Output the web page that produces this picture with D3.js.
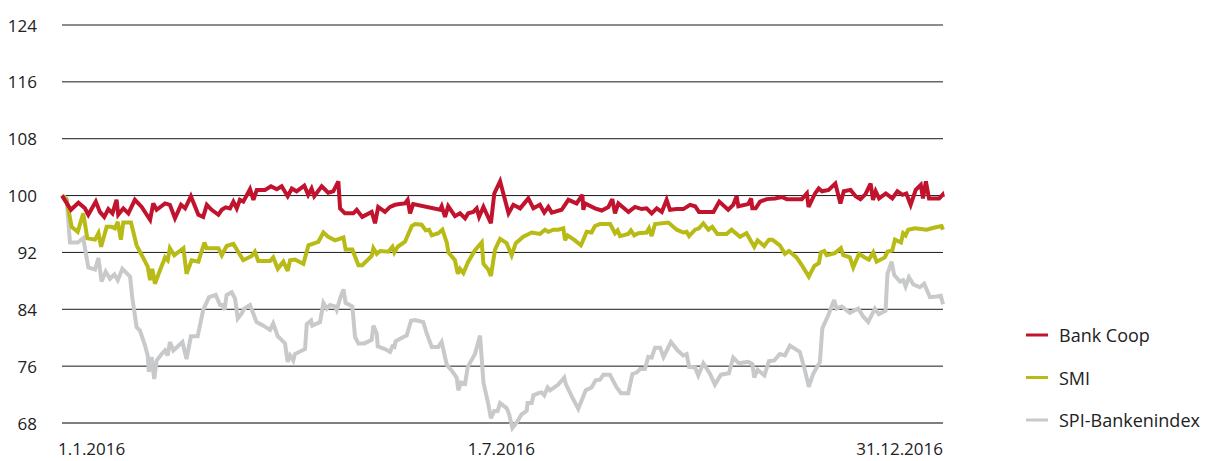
<!DOCTYPE html>
<html><head><meta charset="utf-8">
<script src="https://cdn.jsdelivr.net/npm/d3@7"></script>
<style>
html,body{margin:0;padding:0;background:#fff;}
svg text{font-family:"Open Sans",sans-serif;fill:#222;}
</style></head>
<body><svg id="c" width="1206" height="461"></svg>
<script>
// ---- data (day offsets from 1.1.2016, index values) ----
const seriesNames = ["Bank Coop", "SMI", "SPI-Bankenindex"];
const yTicks = [68, 76, 84, 92, 100, 108, 116, 124];
const xTickLabels = ["1.1.2016", "1.7.2016", "31.12.2016"];
const xTickDates = ["2016-01-01", "2016-07-01", "2016-12-31"];

const bankCoopDays = [0,3.7,6.8,9.5,10.9,14.0,15.7,17.5,19.2,20.9,22.6,23.3,25.4,27.5,30.2,33,36.5,37.8,39.2,42.7,44.7,46.8,49.3,51,53.4,56.5,58.5,60,62,64.8,66.2,67.8,69.6,71,72.4,73.7,75.1,77.9,79.3,80.7,84.1,86.6,89,91,93.5,95.2,97.2,100.4,102,103.4,104.5,107.6,110.3,112.4,114.5,115.2,117.2,120.7,122.1,124.4,128.3,129.7,131,133.8,135.9,138,140,142.1,143.2,144.2,145.5,156.6,157.3,158.7,160,162.8,164.9,167,168.3,170.4,171.8,172.8,174.6,177.7,179.1,181.5,185,187,189.8,193.2,195.3,198,199.8,201.5,202.9,207,209.8,213.2,215.6,216,216.7,220.8,223.6,226.4,228,229.1,230.5,234.7,237.4,240.2,242.2,244.3,246.4,248.5,250.5,251.9,254.7,257.4,260.2,262.3,263.9,269.9,272.3,276,278.1,279.5,280.2,284.3,285.5,286,287.4,289.2,292,295.4,298.2,300.3,306.5,308.6,309.3,312,313.5,314.9,317.6,320.4,322.5,323.9,326.7,328.8,330.8,332.9,335,336,337.1,338.5,341.3,344,346.1,348.2,349.8,351.6,353.7,355.8,356.7,357.9,359.2,363.4,364.8,365];
const bankCoopValues = [100,98.0,99.0,98.2,97.3,99.15,97.7,97.0,98.1,97.5,99.4,97.3,98.2,97.5,99.4,98.4,96.6,98.9,98.0,98.9,98.7,96.8,98.7,98.2,99.9,97.3,97.0,98.7,98.0,97.3,98.0,98.35,98.2,99.15,98.2,99.4,99.15,100.9,99.4,100.8,100.8,101.3,100.9,101.3,99.9,101.0,100.6,101.4,100.1,101.0,99.9,101.3,100.4,100.6,102.0,98.2,97.5,97.5,98.0,97.0,97.7,96.1,98.4,97.7,98.4,98.7,98.8,98.9,99.4,97.5,98.8,98.0,98.5,97.0,98.5,97.1,97.5,96.8,97.5,97.7,98.2,97.0,98.4,96.1,100.3,102.0,97.5,98.7,98.2,99.6,98.2,98.7,97.6,98.4,97.6,98.0,99.4,98.9,100.1,98.0,98.9,98.2,97.9,98.4,99.5,97.5,98.9,97.7,98.4,98.1,98.2,97.5,98.2,97.7,99.4,98.0,98.1,98.1,98.7,98.5,97.7,97.7,99.15,98.0,98.7,99.9,98.5,98.8,99.6,98.2,98.2,99.15,99.5,99.6,99.8,99.5,99.5,100.3,98.4,100.3,101.0,100.6,100.8,101.7,98.9,100.6,100.8,99.9,99.5,100.2,101.7,99.4,100.6,99.6,100.3,99.6,100.6,100.1,100.3,98.7,100.8,101.5,99.6,102.0,99.6,99.6,100.1,99.8];

const smiDays = [0,1.9,4.0,6.5,8.8,10.5,13.7,15.1,16.2,18.5,20.6,21.9,23.1,24.4,25.4,28.6,30.9,33.7,35.5,36.5,37.4,38.5,40.6,42.7,43.8,44.7,46.5,50.3,51.6,53.7,56.5,59.0,59.9,64.8,66.2,68.2,71,75.1,78.6,79.9,81.3,86.2,87.5,89.4,91.7,93.5,94.5,96.5,100,102.1,106.2,108.3,110.3,113.1,116.6,117.5,120.3,122.8,124.4,128.3,129,130.4,131.8,135.2,136.9,137.7,139.1,142.1,144.9,146.3,149,150.7,152.1,153.2,155.9,157.6,159.4,160.1,162.8,164,164.9,166.3,168.3,171.1,173.9,174.6,176.6,177.7,179.4,181.5,184.2,186.3,188,191.1,194.6,198,200.1,201.5,203.6,205.6,207.7,208.4,209.5,212.5,215,217.4,219.4,220.8,222.9,227.1,229.1,230.2,231.2,234.6,235.7,237.1,238.8,242.2,243.2,244.3,245.7,251.2,254.7,257.4,258.8,259.8,262.3,263.9,265.7,267.8,269.4,271.5,275.3,277.4,280.9,283.6,286.8,288.2,290.9,292.9,294.3,297.4,299.5,301.2,304.3,306.7,309.4,311.7,313.6,314.4,315.8,316.8,320.2,322.7,323.7,326.4,327.8,330.2,332.6,334.3,336.1,337.5,340.9,342,344,345.1,347.6,348.5,349.5,350.6,353.4,358.2,361.6,364.4,365];
const smiValues = [100,99.4,95.6,94.9,97.5,94.0,93.8,94.7,92.8,95.6,95.6,95.4,96.3,93.8,96.2,96.2,93.0,91.2,90.0,88.1,89.7,87.6,89.5,91.3,90.9,92.6,91.6,92.6,89.0,90.9,90.7,93.4,92.6,92.6,91.6,92.9,93.2,90.9,91.5,92.1,90.8,90.8,91.3,89.7,90.7,89.4,90.9,91.0,90.4,93.0,93.5,94.8,94.2,93.7,94.1,92.4,92.4,90.2,90.2,91.5,92.6,91.8,92.2,92.1,92.8,92.0,92.8,93.5,95.7,96.0,95.9,95.1,95.2,94.4,94.7,95.2,93.4,92.0,90.9,89.0,89.7,89.1,90.7,92.3,93.4,90.4,89.6,88.7,92.4,93.9,93.3,91.6,93.3,94.2,94.8,94.6,95.2,94.9,95.2,95.2,95.4,93.7,94.4,93.7,93.0,94.9,94.8,95.7,96.0,96.0,94.7,95.1,94.3,94.6,95.1,94.4,94.7,94.8,95.4,94.3,96.0,96.2,95.2,94.8,94.9,94.3,95.2,95.4,96.1,95.2,95.6,94.6,94.6,95.2,94.2,94.7,92.8,93.7,92.9,93.8,93.8,93.0,91.8,92.2,91.3,90.1,88.6,90.1,90.5,92.0,92.2,91.6,91.9,92.6,91.6,91.3,89.9,91.8,91.3,91.0,92.0,90.7,91.3,92.1,92.3,93.8,93.4,94.7,94.4,95.2,95.4,95.2,95.5,95.7,95.2];

const spiDays = [0,1.9,3.3,6.5,8.8,10.9,13.7,15.1,16.4,18.1,19.9,21.7,23.1,25,28.2,29.1,30.9,32.3,34.4,35.5,36,37.1,38.2,39.2,41.3,42.7,43.8,44.7,46.1,49.9,51.6,53.4,56.2,58.5,60.9,63.7,65.5,66.4,67.3,68.2,70.3,71.7,72.8,74.4,75.5,77.9,80.6,83.4,86.2,87.5,89.4,90.3,92.4,93.5,94.5,95.8,96.5,100.7,101.4,103.2,103.7,106.9,108.3,109.7,111,113.1,113.8,115.2,116.6,117.5,120.3,121.4,122.8,125.3,128.3,129,130.4,130.8,133.8,135.9,136.9,137.7,138.2,141.4,142.8,144.6,146.3,149.7,151.1,153.2,155.9,157.3,159.4,161.4,163.5,164.2,165.3,167,168.1,171.1,173.2,174.6,176.6,177.7,179.1,180.5,181.5,184.2,185.2,186.6,188.4,190.4,192.5,192.9,194.6,195.3,197.4,198.7,199.8,201.2,202.2,205.6,208.1,208.7,211.4,213.9,217,219.4,221.1,222.9,224.3,227,229.8,231.6,234.6,236.3,238.1,239.5,241.5,242.9,244.3,245.7,247.8,249.2,252.3,255.1,257.4,258.8,259.8,262.3,263.6,265.7,268.5,270.5,273,276.3,278.1,280.4,284.3,286,286.8,288.2,291,292.9,295.1,297.4,299.5,301.6,305.7,307.8,309.4,311.2,314,315,317.5,319.9,320.9,323,326.4,329.9,331.9,334,336.8,338.4,341.2,342,343.7,344.8,347.2,348.5,349.5,350.9,352.7,355.4,357.2,359.6,362.3,364.1,365];
const spiValues = [100,99.6,93.4,93.4,94.0,89.9,89.6,91.2,87.9,89.3,88.3,88.9,88.1,89.7,88.6,85.7,81.5,81.0,78.9,77.5,75.2,77.3,74.2,76.8,77.7,78.2,77.5,79.4,78.2,79.4,77.0,80.2,80.2,83.9,85.7,86.0,84.6,84.6,83.9,86.0,86.4,85.5,82.7,83.4,84.1,84.6,82.2,81.7,81.1,82.0,80.2,79.9,79.2,76.6,77.5,76.8,77.7,78.4,81.9,82.4,81.7,82.2,84.9,84.1,84.6,84.4,83.9,85.5,86.8,84.9,84.4,80.1,79.2,79.2,79.7,81.7,80.6,78.8,78.4,78.0,78.8,78.7,79.5,80.1,80.3,82.4,82.5,82.2,80.6,78.7,78.7,79.4,76.2,75.4,74.4,72.6,73.7,73.5,75.9,77.7,80.3,73.7,70.7,68.7,69.7,69.7,70.8,70.1,69.3,67.3,68.1,69.2,69.7,70.8,70.8,71.9,72.2,72.3,71.9,73.0,72.6,73.4,74.4,73.5,71.6,70.0,72.6,73.0,74.0,74.1,74.8,74.8,73.0,72.2,72.2,74.9,75.1,75.6,75.6,77.3,77.2,78.6,78.6,77.3,79.4,78.2,77.5,77.7,75.9,75.8,74.7,76.4,74.9,73.4,74.8,75.0,77.2,76.4,76.6,76.3,74.4,75.5,74.7,76.7,76.8,77.7,77.5,78.9,78.0,75.4,73.1,74.9,76.6,81.3,83.2,85.3,84.1,84.4,83.5,84.1,83.0,82.2,84.1,83.3,83.8,89.0,90.7,88.8,87.9,88.1,87.2,88.5,87.5,87.1,87.6,85.7,85.8,85.9,84.7];

const colors = ["#c1122e", "#b8ba15", "#c8c9cb"];

// ---- chart ----
const svg = d3.select("#c");
const t0 = new Date(2016, 0, 1);
const toDate = d => new Date(t0.getTime() + d * 86400000);
const x = d3.scaleTime().domain([t0, new Date(2016, 11, 31)]).range([62, 943]);
const y = d3.scaleLinear().domain([68, 124]).range([423, 25]);

// gridlines
svg.append("g").selectAll("line").data(yTicks).join("line")
  .attr("x1", 62).attr("x2", 943)
  .attr("y1", d => y(d)).attr("y2", d => y(d))
  .attr("stroke", d => d === 68 ? "#555" : "#1a1a1a")
  .attr("stroke-width", d => d === 68 ? 1.6 : 1);

// y labels
svg.append("g").selectAll("text").data(yTicks).join("text")
  .attr("x", 37).attr("y", d => y(d)).attr("text-anchor", "end")
  .attr("dominant-baseline", "central").attr("font-size", 17)
  .text(d => d);

// x labels
const anchors = ["start", "middle", "end"];
svg.append("g").selectAll("text").data(xTickLabels).join("text")
  .attr("x", (d, i) => x(d3.isoParse(xTickDates[i] + "T00:00:00")) + (i === 0 ? -4 : 0))
  .attr("y", 455).attr("text-anchor", (d, i) => anchors[i])
  .attr("font-size", 17).text(d => d);

// lines
const series = [
  {days: spiDays, vals: spiValues, c: colors[2]},
  {days: smiDays, vals: smiValues, c: colors[1]},
  {days: bankCoopDays, vals: bankCoopValues, c: colors[0]}
];
const line = d3.line().x(d => x(d[0])).y(d => y(d[1]));
series.forEach(s => {
  const pts = s.days.map((d, i) => [toDate(d), s.vals[i]]);
  svg.append("path").datum(pts).attr("d", line)
    .attr("fill", "none").attr("stroke", s.c).attr("stroke-width", 4)
    .attr("stroke-linejoin", "miter").attr("stroke-miterlimit", 3);
});

// legend
const lg = svg.append("g");
seriesNames.forEach((n, i) => {
  const ly = 335 + i * 42.5;
  lg.append("line").attr("x1", 1026).attr("x2", 1048).attr("y1", ly).attr("y2", ly)
    .attr("stroke", colors[i]).attr("stroke-width", 3);
  lg.append("text").attr("x", 1059).attr("y", ly).attr("dominant-baseline", "central")
    .attr("font-size", 18).text(n);
});
</script></body></html>
